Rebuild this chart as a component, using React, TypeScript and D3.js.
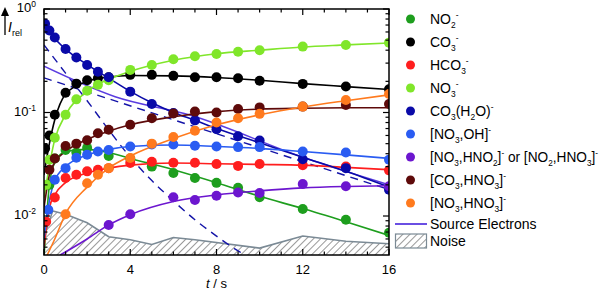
import { useEffect, useRef } from 'react';
import * as d3 from 'd3';

type Pt = [number, number];

// measured points: [t / s, I_rel]
const no2Pts: Pt[] = [[0.25, 0.02], [0.5, 0.036], [1, 0.0435], [1.5, 0.041], [2, 0.0455], [3, 0.038], [4, 0.036], [5, 0.03], [6, 0.026], [7, 0.0233], [8, 0.0209], [9, 0.0187], [10, 0.0152], [12, 0.0117], [14, 0.0092], [16, 0.0069]];
const co3Pts: Pt[] = [[0.05, 0.045], [0.25, 0.06], [0.5, 0.095], [1, 0.155], [1.5, 0.19], [2, 0.205], [2.5, 0.214], [3, 0.219], [4, 0.231], [5, 0.231], [6, 0.226], [7, 0.219], [8, 0.219], [9, 0.214], [10, 0.203], [12, 0.189], [14, 0.178], [16, 0.168]];
const hco3Pts: Pt[] = [[0.1, 0.0088], [0.5, 0.0151], [1, 0.0233], [1.5, 0.025], [2, 0.027], [2.5, 0.028], [3, 0.029], [4, 0.0326], [5, 0.0335], [6, 0.0327], [7, 0.0327], [8, 0.0318], [9, 0.0305], [10, 0.0318], [12, 0.031], [14, 0.03], [16, 0.0276]];
const no3Pts: Pt[] = [[0.1, 0.02], [0.25, 0.035], [0.5, 0.057], [1, 0.095], [1.5, 0.134], [2, 0.162], [2.5, 0.185], [3, 0.205], [4, 0.258], [5, 0.288], [6, 0.327], [7, 0.35], [8, 0.368], [9, 0.387], [10, 0.4], [12, 0.433], [14, 0.449], [16, 0.473]];
const co3h2oPts: Pt[] = [[0.05, 0.72], [0.25, 0.62], [0.5, 0.53], [1, 0.41], [1.5, 0.34], [2, 0.288], [2.5, 0.248], [3, 0.219], [4, 0.159], [5, 0.121], [6, 0.099], [7, 0.084], [8, 0.069], [9, 0.059], [10, 0.0535], [12, 0.0354], [14, 0.029], [16, 0.0179]];
const no3ohPts: Pt[] = [[0.2, 0.0115], [0.5, 0.0224], [1, 0.029], [1.5, 0.0365], [2, 0.039], [2.5, 0.042], [3, 0.0435], [4, 0.047], [5, 0.049], [6, 0.049], [7, 0.0477], [8, 0.047], [9, 0.0463], [10, 0.0463], [12, 0.042], [14, 0.041], [16, 0.0349]];
const no3hno2Pts: Pt[] = [[3, 0.0082], [4, 0.0104], [6, 0.0152], [7, 0.0143], [8, 0.0157], [9, 0.0169], [10, 0.0167], [12, 0.0204], [14, 0.0194], [16, 0.0194]];
const co3hno3Pts: Pt[] = [[0.25, 0.028], [0.5, 0.036], [1, 0.0475], [1.5, 0.05], [2, 0.054], [2.5, 0.063], [3, 0.068], [4, 0.076], [5, 0.088], [6, 0.098], [7, 0.102], [8, 0.1], [9, 0.108], [10, 0.112], [12, 0.114], [14, 0.118], [16, 0.121]];
const no3hno3Pts: Pt[] = [[1, 0.0104], [2, 0.0207], [2.5, 0.025], [3, 0.029], [4, 0.0364], [5, 0.05], [6, 0.058], [7, 0.0667], [8, 0.0799], [9, 0.088], [10, 0.097], [12, 0.114], [14, 0.132], [16, 0.151]];

// fitted curves
const no2Fit: Pt[] = [[0, 0.004], [0.25, 0.02], [0.5, 0.033], [1, 0.042], [2, 0.044], [3, 0.041], [4, 0.036], [6, 0.028], [8, 0.021], [10, 0.0155], [12, 0.0118], [14, 0.0088], [16, 0.0065]];
const co3Fit: Pt[] = [[0, 0.025], [0.25, 0.05], [0.5, 0.085], [1, 0.15], [2, 0.2], [3, 0.22], [4, 0.228], [6, 0.226], [8, 0.218], [10, 0.205], [12, 0.19], [14, 0.178], [16, 0.167]];
const hco3Fit: Pt[] = [[0, 0.005], [0.25, 0.012], [0.5, 0.016], [1, 0.021], [2, 0.026], [3, 0.029], [4, 0.031], [6, 0.0325], [8, 0.032], [10, 0.0315], [12, 0.031], [14, 0.0295], [16, 0.028]];
const no3Fit: Pt[] = [[0, 0.015], [0.5, 0.055], [1, 0.095], [2, 0.16], [3, 0.21], [4, 0.25], [6, 0.32], [8, 0.37], [10, 0.4], [12, 0.43], [14, 0.45], [16, 0.47]];
const co3h2oFit: Pt[] = [[0, 0.72], [0.5, 0.52], [1, 0.41], [2, 0.29], [3, 0.215], [4, 0.16], [5, 0.124], [6, 0.1], [7, 0.084], [8, 0.07], [10, 0.051], [12, 0.037], [14, 0.027], [16, 0.019]];
const no3ohFit: Pt[] = [[0, 0.006], [0.25, 0.014], [0.5, 0.022], [1, 0.03], [2, 0.039], [3, 0.044], [4, 0.047], [6, 0.0485], [8, 0.047], [10, 0.045], [12, 0.042], [14, 0.039], [16, 0.036]];
const no3hno2Fit: Pt[] = [[0.75, 0.0042], [2, 0.006], [3, 0.0082], [4, 0.0103], [6, 0.0138], [8, 0.016], [10, 0.0175], [12, 0.0187], [14, 0.0193], [16, 0.0196]];
const co3hno3Fit: Pt[] = [[0, 0.012], [0.25, 0.025], [0.5, 0.033], [1, 0.042], [2, 0.055], [3, 0.066], [4, 0.076], [6, 0.091], [8, 0.102], [10, 0.108], [12, 0.11], [14, 0.111], [16, 0.111]];
const no3hno3Fit: Pt[] = [[0.15, 0.0042], [0.5, 0.006], [1, 0.0105], [2, 0.019], [3, 0.029], [4, 0.038], [6, 0.056], [8, 0.076], [10, 0.095], [12, 0.113], [14, 0.13], [16, 0.148]];

// two exponential components of CO3(H2O)- (dashed)
const fastComp: Pt[] = [[0, 0.45], [1, 0.24], [2, 0.13], [3, 0.068], [4, 0.037], [5, 0.022], [6, 0.014], [7, 0.0092], [8, 0.0064], [9, 0.0046], [9.5, 0.004]];
const slowComp: Pt[] = [[0, 0.216], [16, 0.018]];

const sourceElectrons: Pt[] = [[0, 0.28], [3.3, 0.142], [6.8, 0.094], [12, 0.037], [14, 0.027], [16, 0.02]];
const noise: Pt[] = [[0, 0.0062], [0.4, 0.0112], [1, 0.0104], [2, 0.0086], [3, 0.0063], [4, 0.0059], [5, 0.0053], [6, 0.0062], [7, 0.0059], [10, 0.0049], [12, 0.0064], [14, 0.0057], [16, 0.0054]];

const xMajorTicks = [0, 4, 8, 12, 16];
const yDecadeExps = [-2, -1, 0];

type Seg = [string, string?];
const legendLabels: Seg[][] = [
  [['NO'], ['2', 'sub'], ['-', 'sup']],
  [['CO'], ['3', 'sub'], ['-', 'sup']],
  [['HCO'], ['3', 'sub'], ['-', 'sup']],
  [['NO'], ['3', 'sub'], ['-', 'sup']],
  [['CO'], ['3', 'sub'], ['(H'], ['2', 'sub'], ['O)'], ['-', 'sup']],
  [['[NO'], ['3', 'sub'], [',OH]'], ['-', 'sup']],
  [['[NO'], ['3', 'sub'], [',HNO'], ['2', 'sub'], [']'], ['-', 'sup'], [' or [NO'], ['2', 'sub'], [',HNO'], ['3', 'sub'], [']'], ['-', 'sup']],
  [['[CO'], ['3', 'sub'], [',HNO'], ['3', 'sub'], [']'], ['-', 'sup']],
  [['[NO'], ['3', 'sub'], [',HNO'], ['3', 'sub'], [']'], ['-', 'sup']],
];

const seriesColors = ['#1e9e1e', '#000000', '#ff1e1e', '#80e62a', '#0a0aa8', '#2a5cf2', '#6c16cf', '#5e0a0a', '#ff7a1e'];
const seriesPts = [no2Pts, co3Pts, hco3Pts, no3Pts, co3h2oPts, no3ohPts, no3hno2Pts, co3hno3Pts, no3hno3Pts];
const seriesFits = [no2Fit, co3Fit, hco3Fit, no3Fit, co3h2oFit, no3ohFit, no3hno2Fit, co3hno3Fit, no3hno3Fit];

const FONT = '"Liberation Sans", Arial, sans-serif';

function addRich(sel: d3.Selection<SVGTextElement, unknown, null, undefined>, segs: Seg[], base: number) {
  let shift = 0;
  segs.forEach(([txt, kind]) => {
    const target = kind === 'sub' ? 4 : kind === 'sup' ? -6 : 0;
    sel.append('tspan')
      .attr('dy', target - shift)
      .attr('font-size', kind ? base * 0.6 : base)
      .text(txt);
    shift = target;
  });
}

export default function App() {
  const ref = useRef<SVGSVGElement>(null);

  useEffect(() => {
    const svg = d3.select(ref.current);
    svg.selectAll('*').remove();

    const left = 44, right = 389, top = 9, bottom = 255;
    const x = d3.scaleLinear().domain([0, 16]).range([left, right]);
    const y = d3.scaleLog().domain([0.0042, 1]).range([bottom, top]);

    const defs = svg.append('defs');
    defs.append('clipPath').attr('id', 'plotclip')
      .append('rect').attr('x', left).attr('y', top).attr('width', right - left).attr('height', bottom - top);
    const pat = defs.append('pattern').attr('id', 'hatch')
      .attr('patternUnits', 'userSpaceOnUse').attr('width', 5).attr('height', 5)
      .attr('patternTransform', 'rotate(45)');
    pat.append('rect').attr('width', 5).attr('height', 5).attr('fill', '#fff');
    pat.append('line').attr('x1', 0).attr('y1', 0).attr('x2', 0).attr('y2', 5)
      .attr('stroke', '#333').attr('stroke-width', 1);

    const plot = svg.append('g').attr('clip-path', 'url(#plotclip)');

    // noise
    const area = d3.area<Pt>().x(d => x(d[0])).y0(bottom).y1(d => y(d[1]));
    const lin = d3.line<Pt>().x(d => x(d[0])).y(d => y(d[1]));
    plot.append('path').attr('d', area(noise)).attr('fill', 'url(#hatch)');
    plot.append('path').attr('d', lin(noise)).attr('fill', 'none')
      .attr('stroke', '#7b8a95').attr('stroke-width', 1.6);

    const smooth = d3.line<Pt>().x(d => x(d[0])).y(d => y(d[1])).curve(d3.curveMonotoneX);

    // dashed components
    [fastComp, slowComp].forEach(c => {
      plot.append('path').attr('d', smooth(c)).attr('fill', 'none')
        .attr('stroke', '#1414a8').attr('stroke-width', 1.4).attr('stroke-dasharray', '8,6');
    });

    // source electrons
    plot.append('path').attr('d', smooth(sourceElectrons)).attr('fill', 'none')
      .attr('stroke', '#5a3ce0').attr('stroke-width', 1.5);

    // fits
    seriesFits.forEach((f, i) => {
      plot.append('path').attr('d', smooth(f)).attr('fill', 'none')
        .attr('stroke', seriesColors[i]).attr('stroke-width', 1.6);
    });

    // markers
    seriesPts.forEach((pts, i) => {
      plot.append('g').selectAll('circle').data(pts).join('circle')
        .attr('cx', d => x(d[0])).attr('cy', d => y(d[1])).attr('r', 5)
        .attr('fill', seriesColors[i]);
    });

    // frame
    svg.append('rect').attr('x', left).attr('y', top).attr('width', right - left).attr('height', bottom - top)
      .attr('fill', 'none').attr('stroke', '#000').attr('stroke-width', 1.5);

    const axes = svg.append('g').attr('stroke', '#000').attr('stroke-width', 1.2);
    d3.range(0, 17, 1).forEach(t => {
      const len = xMajorTicks.includes(t) ? 6 : 3.5;
      axes.append('line').attr('x1', x(t)).attr('x2', x(t)).attr('y1', bottom).attr('y2', bottom - len);
      axes.append('line').attr('x1', x(t)).attr('x2', x(t)).attr('y1', top).attr('y2', top + len);
    });
    const yMinor: number[] = [];
    [0.001, 0.01, 0.1].forEach(dec => d3.range(2, 10).forEach(k => {
      const v = k * dec;
      if (v >= 0.0042 && v <= 1) yMinor.push(v);
    }));
    yMinor.forEach(v => {
      axes.append('line').attr('x1', left).attr('x2', left + 3.5).attr('y1', y(v)).attr('y2', y(v));
      axes.append('line').attr('x1', right).attr('x2', right - 3.5).attr('y1', y(v)).attr('y2', y(v));
    });
    yDecadeExps.forEach(e => {
      const v = Math.pow(10, e);
      axes.append('line').attr('x1', left).attr('x2', left + 6).attr('y1', y(v)).attr('y2', y(v));
      axes.append('line').attr('x1', right).attr('x2', right - 6).attr('y1', y(v)).attr('y2', y(v));
    });

    // tick labels
    xMajorTicks.forEach(t => {
      svg.append('text').attr('x', x(t)).attr('y', 274).attr('text-anchor', 'middle')
        .attr('font-family', FONT).attr('font-size', 13).text(String(t));
    });
    yDecadeExps.forEach(e => {
      const tx = svg.append('text').attr('x', 36).attr('y', y(Math.pow(10, e)) + 3)
        .attr('text-anchor', 'end').attr('font-family', FONT).attr('font-size', 13);
      tx.append('tspan').text('10');
      tx.append('tspan').attr('dy', -5).attr('font-size', 8.5).text(String(e));
    });

    // axis titles
    const xt = svg.append('text').attr('x', x(8)).attr('y', 288).attr('text-anchor', 'middle')
      .attr('font-family', FONT).attr('font-size', 13);
    xt.append('tspan').attr('font-style', 'italic').text('t');
    xt.append('tspan').text(' / s');

    svg.append('line').attr('x1', 5).attr('x2', 5).attr('y1', 35).attr('y2', 14)
      .attr('stroke', '#000').attr('stroke-width', 1.3);
    svg.append('path').attr('d', 'M5,7 L1,16 L9,16 Z').attr('fill', '#000');
    const yt = svg.append('text').attr('x', 8).attr('y', 32).attr('font-family', FONT).attr('font-size', 14);
    yt.append('tspan').attr('font-style', 'italic').text('I');
    yt.append('tspan').attr('dy', 4).attr('font-size', 9).text('rel');

    // legend
    const lg = svg.append('g').attr('font-family', FONT);
    legendLabels.forEach((segs, i) => {
      const cy = 19 + i * 23;
      lg.append('circle').attr('cx', 410.5).attr('cy', cy).attr('r', 4.5).attr('fill', seriesColors[i]);
      const t = lg.append('text').attr('x', 430).attr('y', cy + 5).attr('font-size', 14);
      addRich(t, segs, 14);
      if (segs.length > 8) t.attr('textLength', 168).attr('lengthAdjust', 'spacingAndGlyphs');
    });
    const srcY = 19 + 9 * 23 - 2;
    lg.append('line').attr('x1', 395).attr('x2', 427).attr('y1', srcY).attr('y2', srcY)
      .attr('stroke', '#5a3ce0').attr('stroke-width', 1.8);
    lg.append('text').attr('x', 430).attr('y', srcY + 5).attr('font-size', 14).text('Source Electrons');
    const nY = srcY + 17;
    lg.append('rect').attr('x', 395.5).attr('y', nY - 7).attr('width', 31).attr('height', 14)
      .attr('fill', 'url(#hatch)').attr('stroke', '#7b8a95').attr('stroke-width', 1.2);
    lg.append('text').attr('x', 430).attr('y', nY + 5).attr('font-size', 14).text('Noise');
  }, []);

  return (
    <svg ref={ref} width={602} height={292}
      style={{ position: 'absolute', left: 0, top: 0, background: '#fff' }} />
  );
}
